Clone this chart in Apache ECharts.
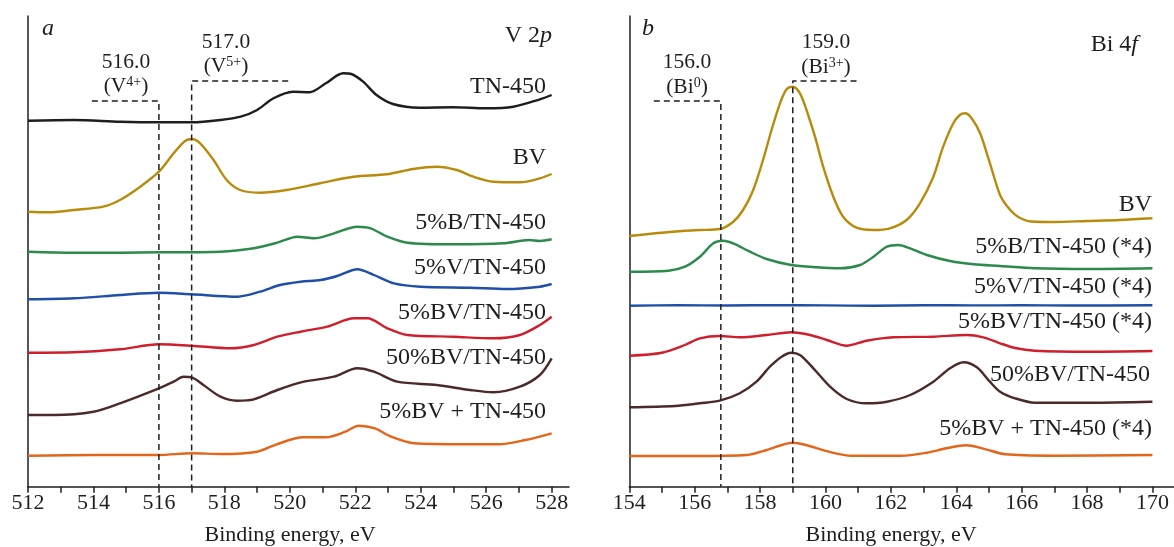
<!DOCTYPE html>
<html>
<head>
<meta charset="utf-8">
<script src="https://cdn.jsdelivr.net/npm/echarts@6/dist/echarts.min.js"></script>
<style>
html,body{margin:0;padding:0;background:#fff;}
#chart{width:1174px;height:547px;}
</style>
</head>
<body>
<div id="chart"></div>
<script>
// ---------- tick labels ----------
const ticksA = [512, 514, 516, 518, 520, 522, 524, 526, 528];
const minorTicksA = [512, 513, 514, 515, 516, 517, 518, 519, 520, 521, 522, 523, 524, 525, 526, 527, 528];
const ticksB = [154, 156, 158, 160, 162, 164, 166, 168, 170];
const minorTicksB = [154, 155, 156, 157, 158, 159, 160, 161, 162, 163, 164, 165, 166, 167, 168, 169, 170];

// ---------- panel a : V 2p (binding energy eV, stacked intensity a.u.) ----------
const eA_TN = [512, 513.4, 514.81, 516.0, 517.0, 517.88, 518.5, 519.0, 519.5, 520.1, 520.6, 521.1, 521.63, 521.88, 522.24, 522.65, 523.15, 523.97, 524.99, 526.0, 526.83, 527.64, 528.0];
const vA_TN = [366.0, 366.7, 365.0, 364.4, 364.4, 366.7, 370.0, 376.7, 388.4, 395.0, 394.4, 403.4, 413.4, 412.7, 405.0, 391.7, 382.7, 379.0, 379.4, 378.4, 380.0, 387.4, 391.7];

const eA_BV = [512, 512.6, 513.4, 514.3, 514.81, 515.43, 516.0, 516.45, 516.8, 517.0, 517.26, 517.67, 518.07, 518.48, 519.09, 519.9, 520.92, 521.94, 522.96, 523.77, 524.49, 525.1, 525.61, 526.22, 527.03, 527.64, 528.0];
const vA_BV = [275.0, 274.4, 276.7, 280.0, 286.7, 300.0, 315.0, 333.4, 345.7, 347.7, 343.4, 326.7, 306.7, 296.7, 294.0, 296.7, 303.4, 310.0, 312.4, 317.7, 320.0, 316.7, 310.0, 305.0, 304.4, 308.4, 312.7];

const eA_B = [512, 513.4, 514.81, 516.0, 517.88, 518.9, 519.62, 520.23, 520.74, 521.35, 522.06, 522.47, 522.98, 523.59, 525.0, 526.53, 527.3, 527.64, 528.0];
const vA_B = [235.0, 234.0, 234.0, 234.4, 235.0, 238.4, 244.0, 250.0, 248.4, 253.4, 260.0, 258.4, 250.0, 244.0, 242.4, 243.4, 246.7, 245.7, 247.4];

const eA_V = [512, 513.4, 514.81, 516.0, 517.0, 518.4, 519.09, 519.7, 520.33, 520.94, 521.45, 522.06, 522.57, 523.18, 523.99, 525.51, 526.63, 527.64, 528.0];
const vA_V = [187.4, 188.4, 191.7, 194.0, 192.4, 190.0, 195.0, 201.7, 205.0, 206.7, 210.7, 217.4, 211.7, 203.4, 200.0, 199.0, 197.7, 200.0, 202.7];

const eA_5BV = [512, 513.4, 514.81, 516.0, 517.0, 518.19, 518.9, 519.62, 520.33, 521.14, 521.96, 522.37, 522.98, 523.59, 525.0, 526.22, 527.03, 527.64, 528.0];
const vA_5BV = [134.0, 134.4, 137.4, 142.4, 141.0, 138.4, 141.7, 150.0, 155.0, 160.0, 168.4, 168.4, 158.4, 151.7, 150.0, 148.4, 151.7, 161.7, 170.0];

const eA_50BV = [512, 512.8, 514.0, 514.81, 516.0, 516.45, 516.75, 517.0, 517.36, 517.88, 518.38, 518.9, 519.62, 520.43, 521.35, 522.06, 522.57, 523.28, 524.49, 525.51, 526.22, 527.03, 527.64, 528.0];
const vA_50BV = [71.7, 71.7, 75.0, 83.4, 98.4, 105.0, 110.0, 109.4, 101.7, 90.0, 86.0, 87.4, 96.7, 105.0, 110.0, 118.4, 115.0, 105.0, 101.7, 96.7, 94.4, 100.0, 111.7, 128.4];

const eA_mix = [512, 514.0, 516.0, 517.0, 517.9, 519.0, 519.6, 520.4, 521.1, 521.7, 522.1, 522.6, 523.1, 523.8, 525.3, 526.4, 527.2, 528.0];
const vA_mix = [31.0, 31.7, 31.7, 33.4, 32.7, 35.0, 42.4, 49.4, 49.4, 55.0, 61.0, 58.4, 50.0, 43.4, 42.4, 42.4, 46.7, 53.4];

// ---------- panel b : Bi 4f ----------
const eB_BV = [154.0, 154.8, 155.7, 156.16, 156.77, 157.18, 157.48, 157.79, 158.09, 158.35, 158.61, 158.81, 159.0, 159.22, 159.42, 159.68, 159.93, 160.24, 160.54, 160.95, 161.46, 161.97, 162.48, 162.89, 163.3, 163.6, 163.91, 164.11, 164.27, 164.47, 164.73, 165.03, 165.34, 165.6, 165.9, 166.3, 167.0, 168.0, 169.0, 170.0];
const vB_BV = [250.7, 253.4, 256.0, 256.7, 257.7, 265.0, 276.7, 296.7, 326.7, 356.7, 383.4, 397.4, 400.0, 393.4, 376.7, 350.0, 320.0, 290.0, 270.0, 259.0, 256.7, 258.4, 266.7, 283.4, 310.0, 340.0, 363.4, 371.7, 373.4, 368.4, 353.4, 323.4, 291.7, 278.7, 269.7, 265.2, 264.7, 265.7, 266.7, 268.4];

const eB_B = [154, 155.2, 155.7, 156.16, 156.57, 156.87, 157.18, 157.69, 158.2, 158.95, 159.73, 160.45, 161.06, 161.47, 161.88, 162.23, 162.59, 163.1, 163.81, 164.53, 165.34, 166.4, 168.1, 170];
const vB_B = [215.0, 216.0, 220.0, 230.0, 243.4, 246.0, 243.4, 235.0, 227.7, 221.7, 219.4, 218.4, 221.7, 230.0, 240.0, 241.7, 238.4, 231.7, 225.7, 222.4, 220.7, 218.4, 217.7, 218.4];

const eB_V = [154, 155.5, 157, 158.5, 160, 161.5, 163, 164.5, 166, 167.5, 170];
const vB_V = [181.0, 181.5, 181.2, 181.6, 181.3, 181.0, 181.5, 181.3, 181.4, 181.2, 181.4];

const eB_5BV = [154, 155.0, 155.7, 156.16, 156.77, 157.38, 158.2, 158.95, 159.53, 160.04, 160.65, 161.26, 162.08, 163.3, 164.32, 164.83, 165.34, 165.8, 166.4, 168.1, 170];
const vB_5BV = [131.0, 134.0, 141.7, 148.4, 150.7, 149.4, 151.7, 154.4, 151.7, 146.7, 141.0, 146.0, 149.4, 150.0, 151.7, 149.4, 143.4, 138.7, 136.0, 135.0, 135.7];

const eB_50BV = [154, 155.4, 156.16, 156.77, 157.38, 157.89, 158.3, 158.66, 158.95, 159.22, 159.63, 160.14, 160.65, 161.26, 161.88, 162.59, 163.3, 163.81, 164.22, 164.63, 165.03, 165.34, 165.8, 166.4, 168.1, 170];
const vB_50BV = [79.4, 80.7, 83.4, 86.0, 93.4, 105.0, 120.0, 130.0, 134.0, 131.7, 118.4, 100.0, 87.7, 83.4, 85.0, 91.7, 105.0, 118.4, 124.4, 119.4, 105.0, 95.0, 88.4, 84.0, 84.0, 85.0];

const eB_mix = [154, 156.0, 157.6, 158.2, 159.0, 159.4, 160.1, 160.8, 162.3, 163.1, 163.7, 164.3, 164.8, 165.5, 167.0, 170.0];
const vB_mix = [30.7, 30.7, 31.7, 36.7, 44.0, 41.7, 35.0, 31.0, 31.0, 34.0, 38.4, 41.4, 38.4, 32.4, 31.0, 31.7];

// ---------- reference (dashed) markers: [energy, bracket end energy, bracket height] ----------
const refA = [[516.0, 513.95, 385.7], [517.0, 519.95, 405.7]];
const refB = [[156.8, 154.75, 385.7], [159.0, 160.95, 405.7]];

// ---------- labels ----------
const namesA = ['TN-450', 'BV', '5%B/TN-450', '5%V/TN-450', '5%BV/TN-450', '50%BV/TN-450', '5%BV + TN-450'];
const namesB = ['BV', '5%B/TN-450 (*4)', '5%V/TN-450 (*4)', '5%BV/TN-450 (*4)', '50%BV/TN-450', '5%BV + TN-450 (*4)'];

const COLORS = {
  TN: '#1e1e1e', BV: '#b88b0c', B: '#2b8a4c', V: '#1f4fa6',
  BV5: '#cf1f2c', BV50: '#4b2a27', mix: '#e3661b'
};
const FONT = '"Liberation Serif", "Times New Roman", serif';
const TXT = '#1e1e1e';

function zip(e, v) { return e.map((x, i) => [x, v[i]]); }
function spectrum(name, xi, e, v, color) {
  return {
    name: name, type: 'line', xAxisIndex: xi, yAxisIndex: xi,
    data: zip(e, v), smooth: 0.3, symbol: 'none', silent: true,
    lineStyle: { color: color, width: 2.4 }, z: 2
  };
}
function refLine(xi, r) {
  return {
    type: 'line', xAxisIndex: xi, yAxisIndex: xi, symbol: 'none', silent: true, z: 5,
    data: [[r[1], r[2]], [r[0], r[2]], [r[0], 0]],
    lineStyle: { color: '#1e1e1e', width: 1.5, type: [6, 4] }
  };
}
function xAxisCfg(gi, min, max, ticks, minor) {
  return {
    type: 'value', gridIndex: gi, min: min, max: max,
    axisLine: { show: true, onZero: false, lineStyle: { color: '#1e1e1e', width: 1.5 } },
    axisTick: { show: true, inside: false, length: 6, customValues: minor, lineStyle: { color: '#1e1e1e', width: 1.5 } },
    axisLabel: { customValues: ticks, fontFamily: FONT, fontSize: 22, color: TXT, margin: 6 },
    splitLine: { show: false }
  };
}
function yAxisCfg(gi) {
  return {
    type: 'value', gridIndex: gi, min: 0, max: 470.7,
    axisLine: { show: true, lineStyle: { color: '#1e1e1e', width: 1.5 } },
    axisTick: { show: false }, axisLabel: { show: false }, splitLine: { show: false }
  };
}
function txt(x, y, text, align, size, extra) {
  return {
    type: 'text', x: x, y: y, silent: true, z: 10,
    style: Object.assign({
      text: text, fill: TXT, fontFamily: FONT, fontSize: size,
      align: align, verticalAlign: 'middle'
    }, extra || {})
  };
}
const supRich = { rich: { sup: { fontFamily: FONT, fontSize: 14, fill: TXT, verticalAlign: 'top' } } };
const itRich = { rich: { it: { fontFamily: FONT, fontSize: 24, fill: TXT, fontStyle: 'italic' } } };

const chart = echarts.init(document.getElementById('chart'), null, { renderer: 'canvas' });
chart.setOption({
  animation: false,
  backgroundColor: '#ffffff',
  grid: [
    { left: 28, top: 16, width: 541, height: 470.7 },
    { left: 629.3, top: 16, width: 544.7, height: 470.7 }
  ],
  xAxis: [
    xAxisCfg(0, 512, 528.53, ticksA, minorTicksA),
    xAxisCfg(1, 154, 170.66, ticksB, minorTicksB)
  ],
  yAxis: [yAxisCfg(0), yAxisCfg(1)],
  series: [
    spectrum(namesA[0], 0, eA_TN, vA_TN, COLORS.TN),
    spectrum(namesA[1], 0, eA_BV, vA_BV, COLORS.BV),
    spectrum(namesA[2], 0, eA_B, vA_B, COLORS.B),
    spectrum(namesA[3], 0, eA_V, vA_V, COLORS.V),
    spectrum(namesA[4], 0, eA_5BV, vA_5BV, COLORS.BV5),
    spectrum(namesA[5], 0, eA_50BV, vA_50BV, COLORS.BV50),
    spectrum(namesA[6], 0, eA_mix, vA_mix, COLORS.mix),
    spectrum(namesB[0], 1, eB_BV, vB_BV, COLORS.BV),
    spectrum(namesB[1], 1, eB_B, vB_B, COLORS.B),
    spectrum(namesB[2], 1, eB_V, vB_V, COLORS.V),
    spectrum(namesB[3], 1, eB_5BV, vB_5BV, COLORS.BV5),
    spectrum(namesB[4], 1, eB_50BV, vB_50BV, COLORS.BV50),
    spectrum(namesB[5], 1, eB_mix, vB_mix, COLORS.mix),
    refLine(0, refA[0]), refLine(0, refA[1]),
    refLine(1, refB[0]), refLine(1, refB[1])
  ],
  graphic: [
    // panel letters and element titles
    txt(48, 29, 'a', 'center', 24, { fontStyle: 'italic' }),
    txt(648, 29, 'b', 'center', 24, { fontStyle: 'italic' }),
    txt(552, 36, 'V 2{it|p}', 'right', 24, itRich),
    txt(1138, 45, 'Bi 4{it|f}', 'right', 24, itRich),
    // reference annotations
    txt(126, 62, '516.0', 'center', 21.5),
    txt(126, 86, '(V{sup|4+})', 'center', 21.5, supRich),
    txt(226, 42, '517.0', 'center', 21.5),
    txt(226, 66, '(V{sup|5+})', 'center', 21.5, supRich),
    txt(687, 62, '156.0', 'center', 21.5),
    txt(687, 87, '(Bi{sup|0})', 'center', 21.5, supRich),
    txt(826, 42, '159.0', 'center', 21.5),
    txt(826, 67, '(Bi{sup|3+})', 'center', 21.5, supRich),
    // series labels, panel a
    txt(546, 87, namesA[0], 'right', 24),
    txt(546, 158, namesA[1], 'right', 24),
    txt(546, 223, namesA[2], 'right', 24),
    txt(546, 268, namesA[3], 'right', 24),
    txt(546, 313, namesA[4], 'right', 24),
    txt(546, 358, namesA[5], 'right', 24),
    txt(546, 412, namesA[6], 'right', 24),
    // series labels, panel b
    txt(1152, 205, namesB[0], 'right', 24),
    txt(1152, 247, namesB[1], 'right', 24),
    txt(1152, 287, namesB[2], 'right', 24),
    txt(1152, 322, namesB[3], 'right', 24),
    txt(1150, 375, namesB[4], 'right', 24),
    txt(1152, 429, namesB[5], 'right', 24),
    // axis titles
    txt(290, 535, 'Binding energy, eV', 'center', 22),
    txt(891, 535, 'Binding energy, eV', 'center', 22)
  ]
});
</script>
</body>
</html>
